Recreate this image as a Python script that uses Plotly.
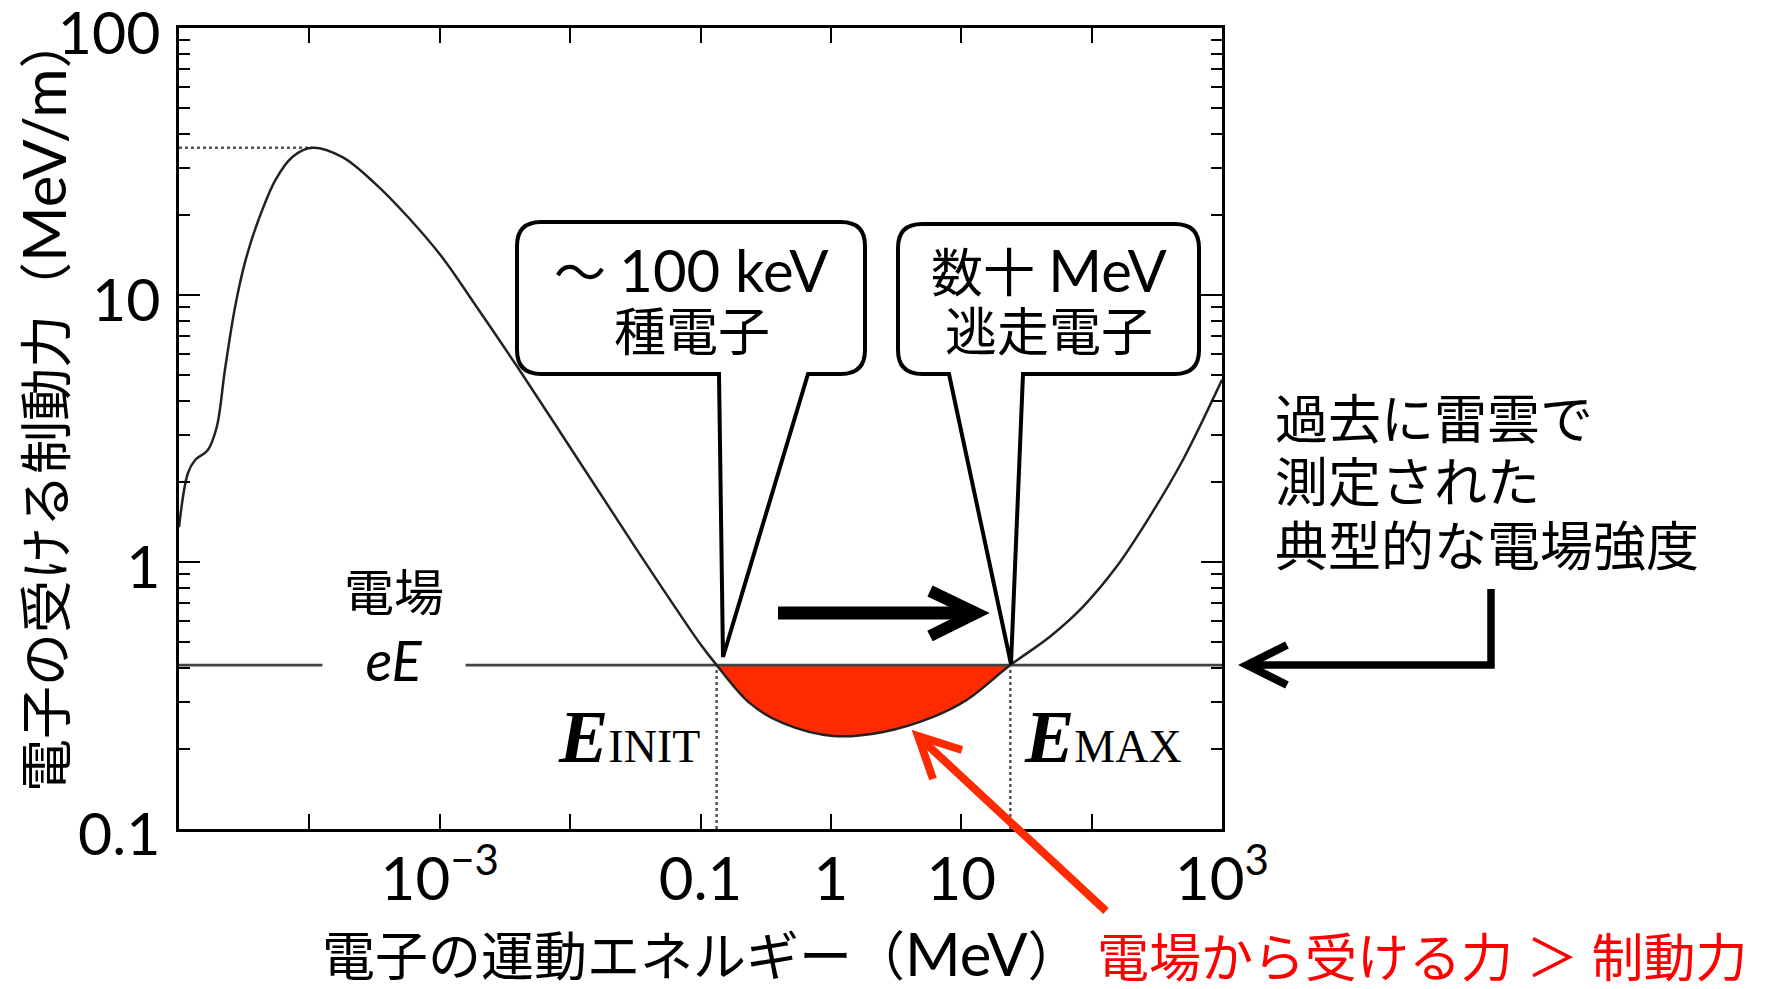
import numpy as np
import plotly.graph_objects as go

# electron kinetic energy (MeV) vs stopping force in air (MeV/m)
energy_mev = [1.0e-5, 1.17e-5, 1.33e-5, 1.66e-5, 1.95e-5, 2.25e-5, 2.69e-5, 3.24e-5,
              4.07e-5, 5.5e-5, 7.41e-5, 1.05e-4, 1.78e-4, 3.18e-4, 5.7e-4, 1.05e-3,
              1.86e-3, 3.89e-3, 1.26e-2, 3.16e-2, 5.5e-2, 9.9e-2, 0.133, 0.239,
              0.43, 1.04, 2.52, 6.1, 11.0, 23.8, 47.8, 86.1, 155, 279, 501, 1000]
stopping = [1.35, 2.15, 2.41, 2.62, 3.21, 5.24, 9.0, 13.5,
            19.1, 27.0, 32.9, 35.6, 32.9, 26.2, 19.6, 13.8,
            9.23, 5.43, 2.26, 1.135, 0.755, 0.495, 0.411, 0.296,
            0.249, 0.223, 0.231, 0.263, 0.304, 0.411, 0.525, 0.681, 0.959, 1.48, 2.41, 4.81]

EE_FIELD = 0.411      # eE (MeV/m)
E_INIT = 0.133        # MeV
E_MAX = 23.8          # MeV
PEAK_E, PEAK_S = 1.05e-4, 35.6

x_ticks = [1e-5, 1e-4, 1e-3, 1e-2, 0.1, 1, 10, 100, 1000]
x_ticktext = ["", "", "10<sup>−3</sup>", "", "0.1", "1", "10", "", "10<sup>3</sup>"]
y_ticks = [0.1, 1, 10, 100]
y_ticktext = ["0.1", "1", "10", "100"]

JP = "Lato, 'Noto Sans CJK JP', sans-serif"
SERIF = "'Liberation Serif', serif"
RED = "#ff2a00"

# plot area in page pixels (window 1779 x 989, page body has an 8px margin)
PAGE_OFF = 8
FIG_W, FIG_H = 1779 - PAGE_OFF, 989 - PAGE_OFF
L, T, W, H = 179, 28, 1043, 801


def P(X, Y):
    return (X - L) / W, (T + H - Y) / H


def path(points, close=False):
    s = ""
    for i, (X, Y) in enumerate(points):
        x, y = P(X, Y)
        s += ("M" if i == 0 else "L") + f"{x:.5f},{y:.5f} "
    return s + ("Z" if close else "")


def bubble(l, t, r, b, base_l, base_r, tip, rad=24):
    def p(X, Y):
        x, y = P(X, Y)
        return f"{x:.5f},{y:.5f}"
    return (f"M{p(l + rad, t)} L{p(r - rad, t)} Q{p(r, t)} {p(r, t + rad)} "
            f"L{p(r, b - rad)} Q{p(r, b)} {p(r - rad, b)} L{p(base_r, b)} "
            f"L{p(*tip)} L{p(base_l, b)} L{p(l + rad, b)} Q{p(l, b)} {p(l, b - rad)} "
            f"L{p(l, t + rad)} Q{p(l, t)} {p(l + rad, t)} Z")


fig = go.Figure()

# red region where eE exceeds the stopping force
inside = [i for i, e in enumerate(energy_mev) if E_INIT <= e <= E_MAX]
fig.add_trace(go.Scatter(x=[E_INIT, E_MAX], y=[EE_FIELD, EE_FIELD], mode="lines",
                         line=dict(width=0), showlegend=False, hoverinfo="skip"))
fig.add_trace(go.Scatter(x=[energy_mev[i] for i in inside], y=[stopping[i] for i in inside],
                         mode="lines", line=dict(width=0, shape="spline", smoothing=1.0),
                         fill="tonexty", fillcolor=RED, showlegend=False, hoverinfo="skip"))

# eE line
fig.add_trace(go.Scatter(x=[1e-5, 1e3], y=[EE_FIELD, EE_FIELD], mode="lines",
                         line=dict(color="#444444", width=2.8), showlegend=False))

# dotted guides
fig.add_trace(go.Scatter(x=[1e-5, PEAK_E], y=[PEAK_S, PEAK_S], mode="lines",
                         line=dict(color="#555555", width=2.5, dash="dot"), showlegend=False))
for e in (E_INIT, E_MAX):
    fig.add_trace(go.Scatter(x=[e, e], y=[0.1, EE_FIELD * 0.96], mode="lines",
                             line=dict(color="#555555", width=2.5, dash="dot"), showlegend=False))

# stopping force curve
fig.add_trace(go.Scatter(x=energy_mev, y=stopping, mode="lines",
                         line=dict(color="#222222", width=2.5, shape="spline", smoothing=1.0),
                         showlegend=False))

shapes = [
    # speech bubbles
    dict(type="path", xref="paper", yref="paper", layer="above",
         path=bubble(517, 222, 865, 374, 719, 808, (723, 657)),
         fillcolor="white", line=dict(color="black", width=4)),
    dict(type="path", xref="paper", yref="paper", layer="above",
         path=bubble(898, 224, 1199, 374, 949, 1023, (1011, 664)),
         fillcolor="white", line=dict(color="black", width=4)),
    # black arrow in the plot
    dict(type="path", xref="paper", yref="paper", layer="above",
         path=path([(778, 613), (972, 613)]), line=dict(color="black", width=13)),
    dict(type="path", xref="paper", yref="paper", layer="above",
         path=path([(930, 591), (976, 613), (930, 636)]), line=dict(color="black", width=12)),
    # bent arrow on the right
    dict(type="path", xref="paper", yref="paper", layer="above",
         path=path([(1491, 589), (1491, 665), (1250, 665)]), line=dict(color="black", width=7.5)),
    dict(type="path", xref="paper", yref="paper", layer="above",
         path=path([(1287, 645), (1247, 665), (1287, 685)]), line=dict(color="black", width=8)),
    # red arrow
    dict(type="path", xref="paper", yref="paper", layer="above",
         path=path([(1106, 911), (921, 739)]), line=dict(color=RED, width=8)),
    dict(type="path", xref="paper", yref="paper", layer="above",
         path=path([(962, 750), (918, 736), (933, 779)]), line=dict(color=RED, width=8)),
]

annotations = []


def text(X, Y, s, size=52, color="black", family=JP, xanchor="center", **kw):
    x, y = P(X, Y)
    annotations.append(dict(x=x, y=y, xref="paper", yref="paper", text=s, showarrow=False,
                            xanchor=xanchor, yanchor="middle",
                            font=dict(size=size, color=color, family=family), **kw))


text(691, 269, "～ <span style='font-size:58px'>100 keV</span>")
text(692, 331, "種電子")
text(1049, 269, "数十 <span style='font-size:58px'>MeV</span>")
text(1049, 331, "逃走電子")
text(1273, 418, "過去に雷雲で", size=53, xanchor="left")
text(1273, 481, "測定された", size=53, xanchor="left")
text(1273, 545, "典型的な電場強度", size=53, xanchor="left")
text(1095, 957, "電場から受ける力 ＞ 制動力", size=52, color="#ff0000", xanchor="left")
text(394, 592, "電場", size=50)
text(394, 659, "<i>eE</i>", size=56, bgcolor="white", width=140)
text(629, 737, "<b><i>E</i></b><span style='font-size:46px'>INIT</span>",
     size=74, family=SERIF)
text(1103, 737, "<b><i>E</i></b><span style='font-size:46px'>MAX</span>",
     size=74, family=SERIF)
text(701, 953, "電子の運動エネルギー（<span style='font-size:60px'>MeV</span>）", size=53)
text(43, 404, "電子の受ける制動力（<span style='font-size:60px'>MeV/m</span>）",
     size=53, textangle=-90)

fig.update_layout(
    width=FIG_W, height=FIG_H,
    margin=dict(l=L - PAGE_OFF, r=FIG_W - (L - PAGE_OFF) - W, t=T - PAGE_OFF,
                b=FIG_H - (T - PAGE_OFF) - H),
    paper_bgcolor="white", plot_bgcolor="white",
    font=dict(family=JP, color="black"),
    shapes=shapes, annotations=annotations,
    xaxis=dict(type="log", range=[-5, 3.00001], tickvals=x_ticks, ticktext=x_ticktext,
               ticks="inside", ticklen=15, tickwidth=2, tickcolor="black",
               showline=True, linecolor="black", linewidth=2.5, mirror="ticks",
               showgrid=False, zeroline=False, tickfont=dict(size=60, family=JP),
               ticklabelstandoff=-4, automargin=False, ticklabeloverflow="allow"),
    yaxis=dict(type="log", range=[-1.00001, 2.00001], tickvals=y_ticks, ticktext=y_ticktext,
               ticks="inside", ticklen=21, tickwidth=2, tickcolor="black",
               showline=True, linecolor="black", linewidth=2.5, mirror="ticks",
               showgrid=False, zeroline=False, tickfont=dict(size=59, family=JP),
               ticklabelstandoff=4, ticklabelshift=5, automargin=False,
               ticklabeloverflow="allow",
               minor=dict(ticks="inside", ticklen=11, tickwidth=2, tickcolor="black",
                          dtick="D1", showgrid=False)),
)

fig.write_html("out.html")
